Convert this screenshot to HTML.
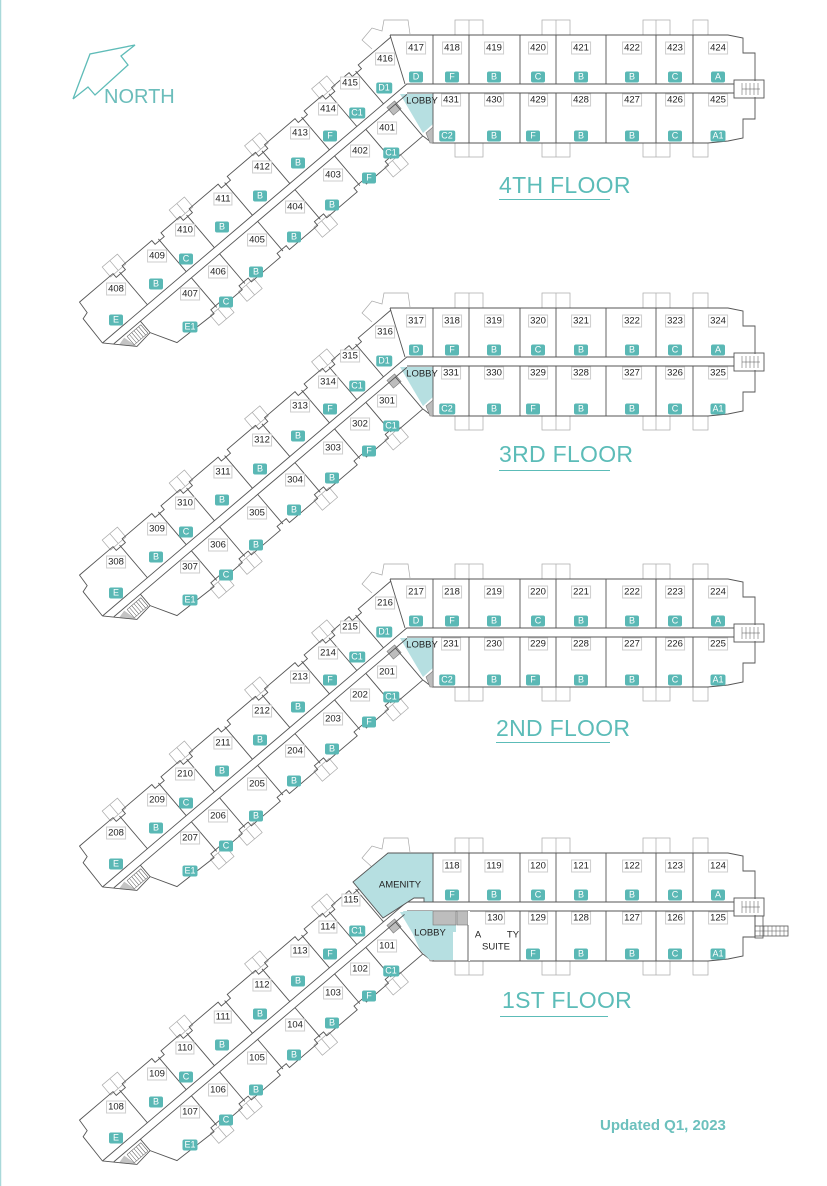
<!DOCTYPE html>
<html><head><meta charset="utf-8">
<style>
html,body{margin:0;padding:0;background:#fff;}
#c{position:relative;width:827px;height:1186px;overflow:hidden;background:#fff;font-family:"Liberation Sans",sans-serif;}
svg{position:absolute;left:0;top:0;}
.n{position:absolute;transform:translate(-50%,-50%);font-size:9.5px;line-height:11px;color:#222;border:1px solid #cdcdcd;background:#fff;padding:0 1px;white-space:nowrap;}
.b{position:absolute;transform:translate(-50%,-50%);font-size:9px;line-height:11px;height:11px;min-width:10px;padding:0 2px;text-align:center;color:#fff;background:#5ab8b5;border-radius:2px;}
.t{position:absolute;font-size:23px;color:#5cbcb8;letter-spacing:0.3px;line-height:26px;}
.u{position:absolute;height:1px;background:#5cbcb8;}
.l{position:absolute;font-size:9.5px;color:#222;transform:translate(-50%,-50%);white-space:nowrap;}
</style></head><body><div id="c">
<svg width="827" height="1186" viewBox="0 0 827 1186">
<defs>
<g id="w">
<polygon points="400,94 433,94 433,124 423,133" fill="#b6dfe1" stroke="none"/>
<g fill="none" stroke="#a9a9a9" stroke-width="0.7">
<rect x="455" y="20" width="28" height="15"/><line x1="469" y1="20" x2="469" y2="35"/>
<rect x="542" y="20" width="28" height="15"/><line x1="556" y1="20" x2="556" y2="35"/>
<rect x="643" y="20" width="27" height="15"/><line x1="656" y1="20" x2="656" y2="35"/>
<rect x="693" y="20" width="15" height="15"/>
<rect x="455" y="143" width="28" height="14"/><line x1="469" y1="143" x2="469" y2="157"/>
<rect x="542" y="143" width="28" height="14"/><line x1="556" y1="143" x2="556" y2="157"/>
<rect x="643" y="143" width="27" height="14"/><line x1="656" y1="143" x2="656" y2="157"/>
<rect x="693" y="143" width="15" height="14"/>
<path d="M372,49 L362,40 L372,28 L382,31 L384,20 L408,20 L410,34"/>
</g>
<g fill="none" stroke="#555" stroke-width="0.9">
<path d="M390,35 L728,35 L743,38 L743,53 L755,53 L755,81 M755,97 L755,119 L743,119 L743,138 L728,141 L708,143 L432,143"/>
<path d="M433,35V84 M469,35V84 M520,35V84 M556,35V84 M606,35V84 M656,35V84 M693,35V84 M433,93V143 M469,93V143 M520,93V143 M556,93V143 M606,93V143 M656,93V143 M693,93V143"/>
<path d="M407,84H734 M407,93H734 M390,35 L405,84 M423,136 L432,143"/>
<rect x="734" y="80" width="30" height="18"/>
<path d="M742,83V95 M746,83V95 M750,83V95 M754,83V95 M758,83V95 M742,89H760" stroke-width="0.5"/>
</g>
<rect x="389" y="103" width="10" height="10" fill="#bdbdbd" stroke="#777" stroke-width="0.6" transform="rotate(-40 394 108)"/>
<polygon points="426,133 433,127 433,143 430,143" fill="#bdbdbd" stroke="#777" stroke-width="0.6"/>
<g transform="translate(118,335) rotate(-40.4)">
<g fill="none" stroke="#a9a9a9" stroke-width="0.7">
<rect x="32" y="-62" width="20" height="13"/><line x1="42" y1="-62" x2="42" y2="-49"/>
<rect x="120" y="-62" width="20" height="13"/><line x1="130" y1="-62" x2="130" y2="-49"/>
<rect x="219" y="-62" width="20" height="13"/><line x1="229" y1="-62" x2="229" y2="-49"/>
<rect x="307" y="-62" width="20" height="13"/><line x1="317" y1="-62" x2="317" y2="-49"/>
<rect x="83" y="45" width="20" height="13"/><line x1="93" y1="45" x2="93" y2="58"/>
<rect x="120" y="45" width="20" height="13"/><line x1="130" y1="45" x2="130" y2="58"/>
<rect x="219" y="45" width="20" height="13"/><line x1="229" y1="45" x2="229" y2="58"/>
<rect x="312" y="45" width="20" height="13"/><line x1="322" y1="45" x2="322" y2="58"/>
</g>
<polygon points="-17,-4 -9,4 -5,8" fill="#aaa"/>
<polygon points="-5,8 7,21 3,6" fill="#c4c4c4"/>
<g fill="none" stroke="#555" stroke-width="0.9">
<path d="M-17,-4 L-16,-35 L-9,-37 L-8,-50 L36,-50 L36,-45 L48,-45 L48,-50 L87,-50 L87,-45 L99,-45 L99,-50 L124,-50 L124,-45 L136,-45 L136,-50 L174,-50 L174,-45 L186,-45 L186,-50 L223,-50 L223,-45 L235,-45 L235,-50 L275,-50 L275,-45 L287,-45 L287,-50 L311,-50 L311,-45 L323,-45 L323,-50 L346,-50 L346,-45 L358,-45 L358,-50 L401,-50"/>
<path d="M-17,-4 L7,21 L26,19 L40,44 L87,46 L87,41 L99,41 L99,46 L124,46 L124,41 L136,41 L136,46 L174,46 L174,41 L186,41 L186,46 L223,46 L223,41 L235,41 L235,46 L275,46 L275,41 L287,41 L287,46 L316,46 L316,41 L328,41 L328,46 L361,46"/>
<path d="M-17,-4 L383,-4 M-9,4 L376,4"/>
<path d="M42,-4V-47 M93,-4V-47 M130,-4V-47 M180,-4V-47 M229,-4V-47 M281,-4V-47 M317,-4V-47 M352,-4V-47"/>
<path d="M26,4V19 M93,4V43 M130,4V43 M180,4V43 M229,4V43 M281,4V43 M322,4V43 M361,4V46"/>
<path d="M6,7H24V18H6Z M9,7V18 M12,7V18 M15,7V18 M18,7V18 M21,7V18" stroke-width="0.5"/>
</g>
</g>
</g>
</defs>
<line x1="0.5" y1="0" x2="0.5" y2="1186" stroke="#a9d9da" stroke-width="1.5"/>
<polyline points="73,99 90,54 135,45 121,56 128,65 95,95 88,87 73,99" fill="none" stroke="#5fbcb8" stroke-width="1.3"/>
<text x="104" y="103" font-family="Liberation Sans, sans-serif" font-size="20" fill="#6bbdbb">NORTH</text>
<use href="#w"/>
<use href="#w" y="273"/>
<use href="#w" y="544"/>
<use href="#w" y="818"/>
<polygon points="353,882 388,853 433,853 433,902 424,902 424,898 414,898 383,918" fill="#b6dfe1" stroke="#555" stroke-width="0.9"/>
<polygon points="403,911 433,911 433,925 456,925 456,932 453,932 453,960 430,960 420,950" fill="#b6dfe1" stroke="none"/>
<rect x="433" y="911" width="23" height="14" fill="#bdbdbd" stroke="#777" stroke-width="0.6"/>
<rect x="457" y="911" width="11" height="14" fill="#bdbdbd" stroke="#777" stroke-width="0.6"/>
<line x1="469" y1="911" x2="469" y2="961" stroke="#fff" stroke-width="2"/>
<line x1="468" y1="925" x2="468" y2="961" stroke="#555" stroke-width="0.9"/>
<g fill="none" stroke="#555" stroke-width="0.8">
<rect x="755" y="926" width="33" height="10"/>
<path d="M760,926V936 M764,926V936 M768,926V936 M772,926V936 M776,926V936 M780,926V936 M784,926V936 M755,931H788" stroke-width="0.5"/>
<rect x="755" y="916" width="8" height="22"/>
</g>
</svg>

<div class="t" style="left:499px;top:172px">4TH FLOOR</div><div class="u" style="left:499px;top:199px;width:111px"></div>
<div class="t" style="left:499px;top:441px">3RD FLOOR</div><div class="u" style="left:499px;top:470px;width:111px"></div>
<div class="t" style="left:496px;top:715px">2ND FLOOR</div><div class="u" style="left:496px;top:742px;width:114px"></div>
<div class="t" style="left:502px;top:987px">1ST FLOOR</div><div class="u" style="left:500px;top:1016px;width:108px"></div>
<div style="position:absolute;left:600px;top:1117px;font-size:15px;font-weight:bold;color:#6cc0bd;">Updated Q1, 2023</div>

<!-- 4TH -->
<div class="l" style="left:422px;top:101px">LOBBY</div>
<div class="n" style="left:416px;top:48px">417</div><div class="n" style="left:452px;top:48px">418</div><div class="n" style="left:494px;top:48px">419</div><div class="n" style="left:538px;top:48px">420</div><div class="n" style="left:581px;top:48px">421</div><div class="n" style="left:632px;top:48px">422</div><div class="n" style="left:675px;top:48px">423</div><div class="n" style="left:718px;top:48px">424</div>
<div class="n" style="left:451px;top:100px">431</div><div class="n" style="left:494px;top:100px">430</div><div class="n" style="left:538px;top:100px">429</div><div class="n" style="left:581px;top:100px">428</div><div class="n" style="left:632px;top:100px">427</div><div class="n" style="left:675px;top:100px">426</div><div class="n" style="left:718px;top:100px">425</div>
<div class="n" style="left:385px;top:59px">416</div><div class="n" style="left:350px;top:83px">415</div><div class="n" style="left:328px;top:109px">414</div><div class="n" style="left:300px;top:133px">413</div><div class="n" style="left:262px;top:167px">412</div><div class="n" style="left:223px;top:199px">411</div><div class="n" style="left:185px;top:230px">410</div><div class="n" style="left:157px;top:256px">409</div><div class="n" style="left:116px;top:289px">408</div>
<div class="n" style="left:387px;top:128px">401</div><div class="n" style="left:360px;top:151px">402</div><div class="n" style="left:333px;top:175px">403</div><div class="n" style="left:295px;top:207px">404</div><div class="n" style="left:257px;top:240px">405</div><div class="n" style="left:218px;top:272px">406</div><div class="n" style="left:190px;top:294px">407</div>
<div class="b" style="left:416px;top:77px">D</div><div class="b" style="left:452px;top:77px">F</div><div class="b" style="left:494px;top:77px">B</div><div class="b" style="left:538px;top:77px">C</div><div class="b" style="left:581px;top:77px">B</div><div class="b" style="left:632px;top:77px">B</div><div class="b" style="left:675px;top:77px">C</div><div class="b" style="left:718px;top:77px">A</div>
<div class="b" style="left:447px;top:136px">C2</div><div class="b" style="left:494px;top:136px">B</div><div class="b" style="left:533px;top:136px">F</div><div class="b" style="left:581px;top:136px">B</div><div class="b" style="left:632px;top:136px">B</div><div class="b" style="left:675px;top:136px">C</div><div class="b" style="left:718px;top:136px">A1</div>
<div class="b" style="left:384px;top:88px">D1</div><div class="b" style="left:357px;top:113px">C1</div><div class="b" style="left:330px;top:136px">F</div><div class="b" style="left:298px;top:163px">B</div><div class="b" style="left:260px;top:196px">B</div><div class="b" style="left:222px;top:227px">B</div><div class="b" style="left:186px;top:259px">C</div><div class="b" style="left:156px;top:284px">B</div><div class="b" style="left:116px;top:320px">E</div>
<div class="b" style="left:391px;top:153px">C1</div><div class="b" style="left:369px;top:178px">F</div><div class="b" style="left:332px;top:205px">B</div><div class="b" style="left:294px;top:237px">B</div><div class="b" style="left:256px;top:272px">B</div><div class="b" style="left:226px;top:302px">C</div><div class="b" style="left:190px;top:327px">E1</div>

<!-- 3RD -->
<div class="l" style="left:422px;top:374px">LOBBY</div>
<div class="n" style="left:416px;top:321px">317</div><div class="n" style="left:452px;top:321px">318</div><div class="n" style="left:494px;top:321px">319</div><div class="n" style="left:538px;top:321px">320</div><div class="n" style="left:581px;top:321px">321</div><div class="n" style="left:632px;top:321px">322</div><div class="n" style="left:675px;top:321px">323</div><div class="n" style="left:718px;top:321px">324</div>
<div class="n" style="left:451px;top:373px">331</div><div class="n" style="left:494px;top:373px">330</div><div class="n" style="left:538px;top:373px">329</div><div class="n" style="left:581px;top:373px">328</div><div class="n" style="left:632px;top:373px">327</div><div class="n" style="left:675px;top:373px">326</div><div class="n" style="left:718px;top:373px">325</div>
<div class="n" style="left:385px;top:332px">316</div><div class="n" style="left:350px;top:356px">315</div><div class="n" style="left:328px;top:382px">314</div><div class="n" style="left:300px;top:406px">313</div><div class="n" style="left:262px;top:440px">312</div><div class="n" style="left:223px;top:472px">311</div><div class="n" style="left:185px;top:503px">310</div><div class="n" style="left:157px;top:529px">309</div><div class="n" style="left:116px;top:562px">308</div>
<div class="n" style="left:387px;top:401px">301</div><div class="n" style="left:360px;top:424px">302</div><div class="n" style="left:333px;top:448px">303</div><div class="n" style="left:295px;top:480px">304</div><div class="n" style="left:257px;top:513px">305</div><div class="n" style="left:218px;top:545px">306</div><div class="n" style="left:190px;top:567px">307</div>
<div class="b" style="left:416px;top:350px">D</div><div class="b" style="left:452px;top:350px">F</div><div class="b" style="left:494px;top:350px">B</div><div class="b" style="left:538px;top:350px">C</div><div class="b" style="left:581px;top:350px">B</div><div class="b" style="left:632px;top:350px">B</div><div class="b" style="left:675px;top:350px">C</div><div class="b" style="left:718px;top:350px">A</div>
<div class="b" style="left:447px;top:409px">C2</div><div class="b" style="left:494px;top:409px">B</div><div class="b" style="left:533px;top:409px">F</div><div class="b" style="left:581px;top:409px">B</div><div class="b" style="left:632px;top:409px">B</div><div class="b" style="left:675px;top:409px">C</div><div class="b" style="left:718px;top:409px">A1</div>
<div class="b" style="left:384px;top:361px">D1</div><div class="b" style="left:357px;top:386px">C1</div><div class="b" style="left:330px;top:409px">F</div><div class="b" style="left:298px;top:436px">B</div><div class="b" style="left:260px;top:469px">B</div><div class="b" style="left:222px;top:500px">B</div><div class="b" style="left:186px;top:532px">C</div><div class="b" style="left:156px;top:557px">B</div><div class="b" style="left:116px;top:593px">E</div>
<div class="b" style="left:391px;top:426px">C1</div><div class="b" style="left:369px;top:451px">F</div><div class="b" style="left:332px;top:478px">B</div><div class="b" style="left:294px;top:510px">B</div><div class="b" style="left:256px;top:545px">B</div><div class="b" style="left:226px;top:575px">C</div><div class="b" style="left:190px;top:600px">E1</div>

<!-- 2ND -->
<div class="l" style="left:422px;top:645px">LOBBY</div>
<div class="n" style="left:416px;top:592px">217</div><div class="n" style="left:452px;top:592px">218</div><div class="n" style="left:494px;top:592px">219</div><div class="n" style="left:538px;top:592px">220</div><div class="n" style="left:581px;top:592px">221</div><div class="n" style="left:632px;top:592px">222</div><div class="n" style="left:675px;top:592px">223</div><div class="n" style="left:718px;top:592px">224</div>
<div class="n" style="left:451px;top:644px">231</div><div class="n" style="left:494px;top:644px">230</div><div class="n" style="left:538px;top:644px">229</div><div class="n" style="left:581px;top:644px">228</div><div class="n" style="left:632px;top:644px">227</div><div class="n" style="left:675px;top:644px">226</div><div class="n" style="left:718px;top:644px">225</div>
<div class="n" style="left:385px;top:603px">216</div><div class="n" style="left:350px;top:627px">215</div><div class="n" style="left:328px;top:653px">214</div><div class="n" style="left:300px;top:677px">213</div><div class="n" style="left:262px;top:711px">212</div><div class="n" style="left:223px;top:743px">211</div><div class="n" style="left:185px;top:774px">210</div><div class="n" style="left:157px;top:800px">209</div><div class="n" style="left:116px;top:833px">208</div>
<div class="n" style="left:387px;top:672px">201</div><div class="n" style="left:360px;top:695px">202</div><div class="n" style="left:333px;top:719px">203</div><div class="n" style="left:295px;top:751px">204</div><div class="n" style="left:257px;top:784px">205</div><div class="n" style="left:218px;top:816px">206</div><div class="n" style="left:190px;top:838px">207</div>
<div class="b" style="left:416px;top:621px">D</div><div class="b" style="left:452px;top:621px">F</div><div class="b" style="left:494px;top:621px">B</div><div class="b" style="left:538px;top:621px">C</div><div class="b" style="left:581px;top:621px">B</div><div class="b" style="left:632px;top:621px">B</div><div class="b" style="left:675px;top:621px">C</div><div class="b" style="left:718px;top:621px">A</div>
<div class="b" style="left:447px;top:680px">C2</div><div class="b" style="left:494px;top:680px">B</div><div class="b" style="left:533px;top:680px">F</div><div class="b" style="left:581px;top:680px">B</div><div class="b" style="left:632px;top:680px">B</div><div class="b" style="left:675px;top:680px">C</div><div class="b" style="left:718px;top:680px">A1</div>
<div class="b" style="left:384px;top:632px">D1</div><div class="b" style="left:357px;top:657px">C1</div><div class="b" style="left:330px;top:680px">F</div><div class="b" style="left:298px;top:707px">B</div><div class="b" style="left:260px;top:740px">B</div><div class="b" style="left:222px;top:771px">B</div><div class="b" style="left:186px;top:803px">C</div><div class="b" style="left:156px;top:828px">B</div><div class="b" style="left:116px;top:864px">E</div>
<div class="b" style="left:391px;top:697px">C1</div><div class="b" style="left:369px;top:722px">F</div><div class="b" style="left:332px;top:749px">B</div><div class="b" style="left:294px;top:781px">B</div><div class="b" style="left:256px;top:816px">B</div><div class="b" style="left:226px;top:846px">C</div><div class="b" style="left:190px;top:871px">E1</div>

<!-- 1ST -->
<div class="l" style="left:400px;top:885px">AMENITY</div>
<div class="l" style="left:430px;top:933px">LOBBY</div>
<div class="l" style="left:478px;top:935px">A</div><div class="l" style="left:513px;top:935px">TY</div><div class="l" style="left:496px;top:947px">SUITE</div>
<div class="n" style="left:452px;top:866px">118</div><div class="n" style="left:494px;top:866px">119</div><div class="n" style="left:538px;top:866px">120</div><div class="n" style="left:581px;top:866px">121</div><div class="n" style="left:632px;top:866px">122</div><div class="n" style="left:675px;top:866px">123</div><div class="n" style="left:718px;top:866px">124</div>
<div class="n" style="left:495px;top:918px">130</div><div class="n" style="left:538px;top:918px">129</div><div class="n" style="left:581px;top:918px">128</div><div class="n" style="left:632px;top:918px">127</div><div class="n" style="left:675px;top:918px">126</div><div class="n" style="left:718px;top:918px">125</div>
<div class="n" style="left:351px;top:900px">115</div><div class="n" style="left:328px;top:927px">114</div><div class="n" style="left:300px;top:951px">113</div><div class="n" style="left:262px;top:985px">112</div><div class="n" style="left:223px;top:1017px">111</div><div class="n" style="left:185px;top:1048px">110</div><div class="n" style="left:157px;top:1074px">109</div><div class="n" style="left:116px;top:1107px">108</div>
<div class="n" style="left:387px;top:946px">101</div><div class="n" style="left:360px;top:969px">102</div><div class="n" style="left:333px;top:993px">103</div><div class="n" style="left:295px;top:1025px">104</div><div class="n" style="left:257px;top:1058px">105</div><div class="n" style="left:218px;top:1090px">106</div><div class="n" style="left:190px;top:1112px">107</div>
<div class="b" style="left:452px;top:895px">F</div><div class="b" style="left:494px;top:895px">B</div><div class="b" style="left:538px;top:895px">C</div><div class="b" style="left:581px;top:895px">B</div><div class="b" style="left:632px;top:895px">B</div><div class="b" style="left:675px;top:895px">C</div><div class="b" style="left:718px;top:895px">A</div>
<div class="b" style="left:533px;top:954px">F</div><div class="b" style="left:581px;top:954px">B</div><div class="b" style="left:632px;top:954px">B</div><div class="b" style="left:675px;top:954px">C</div><div class="b" style="left:718px;top:954px">A1</div>
<div class="b" style="left:357px;top:931px">C1</div><div class="b" style="left:330px;top:954px">F</div><div class="b" style="left:298px;top:981px">B</div><div class="b" style="left:260px;top:1014px">B</div><div class="b" style="left:222px;top:1045px">B</div><div class="b" style="left:186px;top:1077px">C</div><div class="b" style="left:156px;top:1102px">B</div><div class="b" style="left:116px;top:1138px">E</div>
<div class="b" style="left:391px;top:971px">C1</div><div class="b" style="left:369px;top:996px">F</div><div class="b" style="left:332px;top:1023px">B</div><div class="b" style="left:294px;top:1055px">B</div><div class="b" style="left:256px;top:1090px">B</div><div class="b" style="left:226px;top:1120px">C</div><div class="b" style="left:190px;top:1145px">E1</div>
</div></body></html>
